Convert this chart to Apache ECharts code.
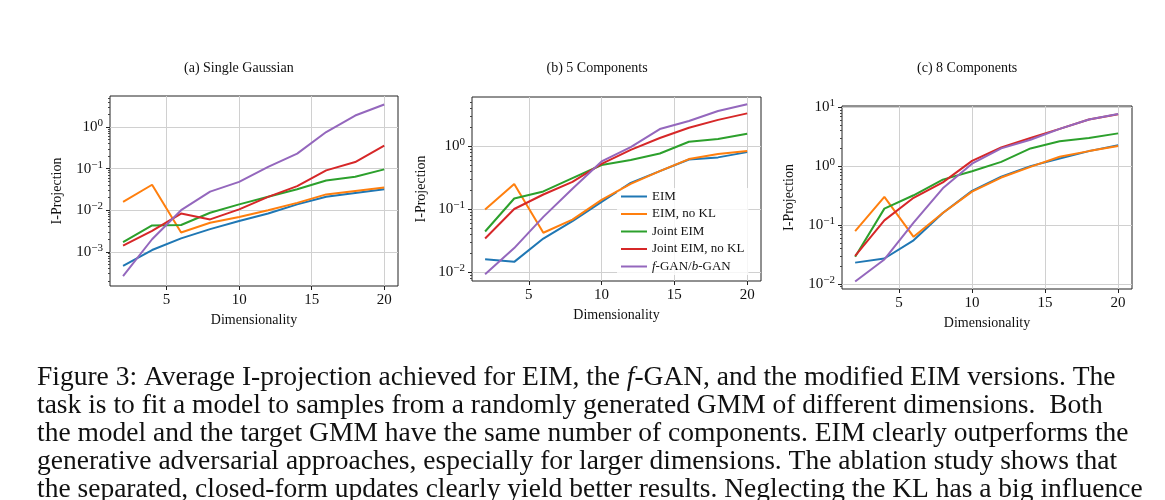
<!DOCTYPE html>
<html><head><meta charset="utf-8">
<script src="https://cdn.jsdelivr.net/npm/echarts@6/dist/echarts.min.js"></script>
<style>html,body{margin:0;padding:0;background:#fff}#c{width:1165px;height:500px}</style>
</head><body><div id="c"></div>
<script>
const dims = [2,4,6,8,10,12,14,16,18,20];
const seriesNames = ['EIM','EIM, no KL','Joint EIM','Joint EIM, no KL','f-GAN/b-GAN'];
const colors = ['#1f77b4','#ff7f0e','#2ca02c','#d62728','#9467bd'];
const titles = ['(a) Single Gaussian','(b) 5 Components','(c) 8 Components'];
const xTicks = [5,10,15,20];
// Panel a
const a_eim   = [4.6e-4,1.1e-3,2.1e-3,3.5e-3,5.5e-3,8.3e-3,0.0138,0.021,0.026,0.032];
const a_eimNo = [0.0158,0.041,2.9e-3,5e-3,6.9e-3,0.01,0.015,0.024,0.029,0.035];
const a_joint = [1.7e-3,4.3e-3,4.4e-3,8.7e-3,0.0138,0.021,0.032,0.052,0.064,0.096];
const a_jointNo=[1.4e-3,3.2e-3,8.3e-3,6e-3,0.0105,0.021,0.038,0.091,0.144,0.36];
const a_gan   = [2.6e-4,2.0e-3,0.01,0.028,0.048,0.11,0.23,0.76,1.9,3.5];
// Panel b
const b_eim   = [0.016,0.0145,0.034,0.064,0.13,0.26,0.40,0.61,0.66,0.80];
const b_eimNo = [0.098,0.25,0.042,0.068,0.14,0.25,0.40,0.62,0.75,0.83];
const b_joint = [0.044,0.147,0.19,0.31,0.50,0.60,0.76,1.17,1.29,1.57];
const b_jointNo=[0.034,0.10,0.17,0.27,0.52,0.87,1.34,1.95,2.6,3.3];
const b_gan   = [0.0092,0.024,0.075,0.21,0.57,0.96,1.86,2.5,3.6,4.6];
// Panel c
const c_eim   = [0.023,0.027,0.055,0.16,0.38,0.66,1.0,1.35,1.8,2.27];
const c_eimNo = [0.079,0.30,0.063,0.16,0.37,0.64,0.97,1.44,1.8,2.2];
const c_joint = [0.029,0.19,0.32,0.59,0.82,1.18,2.0,2.65,3.0,3.6];
const c_jointNo=[0.030,0.12,0.29,0.53,1.23,2.07,3.0,4.3,6.2,7.6];
const c_gan   = [0.011,0.026,0.11,0.42,1.1,2.0,2.8,4.3,6.2,7.7];
const panels = [
  [a_eim,a_eimNo,a_joint,a_jointNo,a_gan],
  [b_eim,b_eimNo,b_joint,b_jointNo,b_gan],
  [c_eim,c_eimNo,c_joint,c_jointNo,c_gan]
];
const yMajor = [[1e-3,1e-2,1e-1,1],[1e-2,1e-1,1],[1e-2,1e-1,1,10]];
const yRange = [[1.5e-4,5.6],[7.2e-3,6.0],[8.2e-3,10.5]];
const captionLines = [
 'Figure 3: Average I-projection achieved for EIM, the {i|f}-GAN, and the modified EIM versions. The',
 'task is to fit a model to samples from a randomly generated GMM of different dimensions.  Both',
 'the model and the target GMM have the same number of components. EIM clearly outperforms the',
 'generative adversarial approaches, especially for larger dimensions. The ablation study shows that',
 'the separated, closed-form updates clearly yield better results. Neglecting the KL has a big influence'
];

const boxes = [
  {left:110, top:96, width:288, height:190},
  {left:472, top:97, width:289, height:184},
  {left:842, top:106, width:290, height:183}
];
const FONT = 'Liberation Serif';
function minorTicks(r){
  const out=[];
  for(let e=-5;e<=2;e++) for(let k=2;k<=9;k++){const v=k*Math.pow(10,e); if(v>r[0]&&v<r[1]) out.push(v);}
  return out;
}
function powLabel(v){
  const e=Math.round(Math.log10(v));
  return '10{s|'+(e<0?'\u2212'+(-e):e)+'}';
}
const grid=[],xAxis=[],yAxis=[],series=[],graphic=[];
boxes.forEach((b,i)=>{
  grid.push(Object.assign({show:true,borderColor:'#222',borderWidth:1,backgroundColor:'transparent'},b));
  xAxis.push({type:'value',gridIndex:i,min:1.1,max:20.95,
    name:'Dimensionality',nameLocation:'middle',nameGap:27,
    nameTextStyle:{fontFamily:FONT,fontSize:14,color:'#111'},
    axisLine:{show:false},
    axisTick:{show:true,length:4,customValues:xTicks,lineStyle:{color:'#222'}},
    axisLabel:{customValues:xTicks,fontFamily:FONT,fontSize:15,color:'#111',margin:7},
    splitLine:{show:true,lineStyle:{color:'#d0d0d0',width:1}}});
  yAxis.push({type:'log',logBase:10,gridIndex:i,position:'left',min:yRange[i][0],max:yRange[i][1],
    name:'I-Projection',nameLocation:'middle',nameGap:i===0?46:i===1?44:46,
    nameTextStyle:{fontFamily:FONT,fontSize:14,color:'#111'},
    axisLine:{show:false},
    axisTick:{show:true,length:4,customValues:yMajor[i],lineStyle:{color:'#222'}},
    axisLabel:{customValues:yMajor[i],formatter:powLabel,fontFamily:FONT,fontSize:15,color:'#111',margin:7,
      rich:{s:{fontFamily:FONT,fontSize:11,verticalAlign:'top',padding:[0,0,8,0],color:'#111'}}},
    splitLine:{show:true,lineStyle:{color:'#d0d0d0',width:1}}});
  yAxis.push({type:'log',logBase:10,gridIndex:i,position:'left',offset:0,min:yRange[i][0],max:yRange[i][1],
    axisLine:{show:false},
    axisTick:{show:true,length:2,customValues:minorTicks(yRange[i]),lineStyle:{color:'#444'}},
    axisLabel:{show:false},splitLine:{show:false}});
  panels[i].forEach((d,k)=>{
    series.push({type:'line',name:seriesNames[k],xAxisIndex:i,yAxisIndex:2*i,
      data:dims.map((x,j)=>[x,d[j]]),showSymbol:false,symbol:'none',
      lineStyle:{width:2,color:colors[k]},itemStyle:{color:colors[k]},z:3+k,animation:false});
  });
  graphic.push({type:'text',left:b.left+b.width/2-70,top:61,
    style:{text:titles[i],font:'14px "'+FONT+'"',fill:'#111',width:140,align:'center'}});
});
captionLines.forEach((t,i)=>{
  graphic.push({type:'text',left:37,top:364+i*28,
    style:{text:t,font:'27.5px "'+FONT+'"',fill:'#111',
      rich:{i:{fontStyle:'italic',fontFamily:FONT,fontSize:27.5}}}});
});
const chart=echarts.init(document.getElementById('c'),null,{renderer:'canvas'});
chart.setOption({
  animation:false,
  backgroundColor:'#fff',
  grid,xAxis,yAxis,series,graphic,
  legend:{show:true,orient:'vertical',left:617,top:188,itemGap:4.5,itemWidth:26,itemHeight:2,
    icon:'rect',data:seriesNames,
    formatter:function(n){return n==='f-GAN/b-GAN'?'{i|f}-GAN/{i|b}-GAN':n;},
    textStyle:{fontFamily:FONT,fontSize:13,color:'#111',rich:{i:{fontStyle:'italic',fontFamily:FONT,fontSize:13}}},
    backgroundColor:'rgba(255,255,255,0.8)',padding:[2,4]}
});
</script></body></html>
